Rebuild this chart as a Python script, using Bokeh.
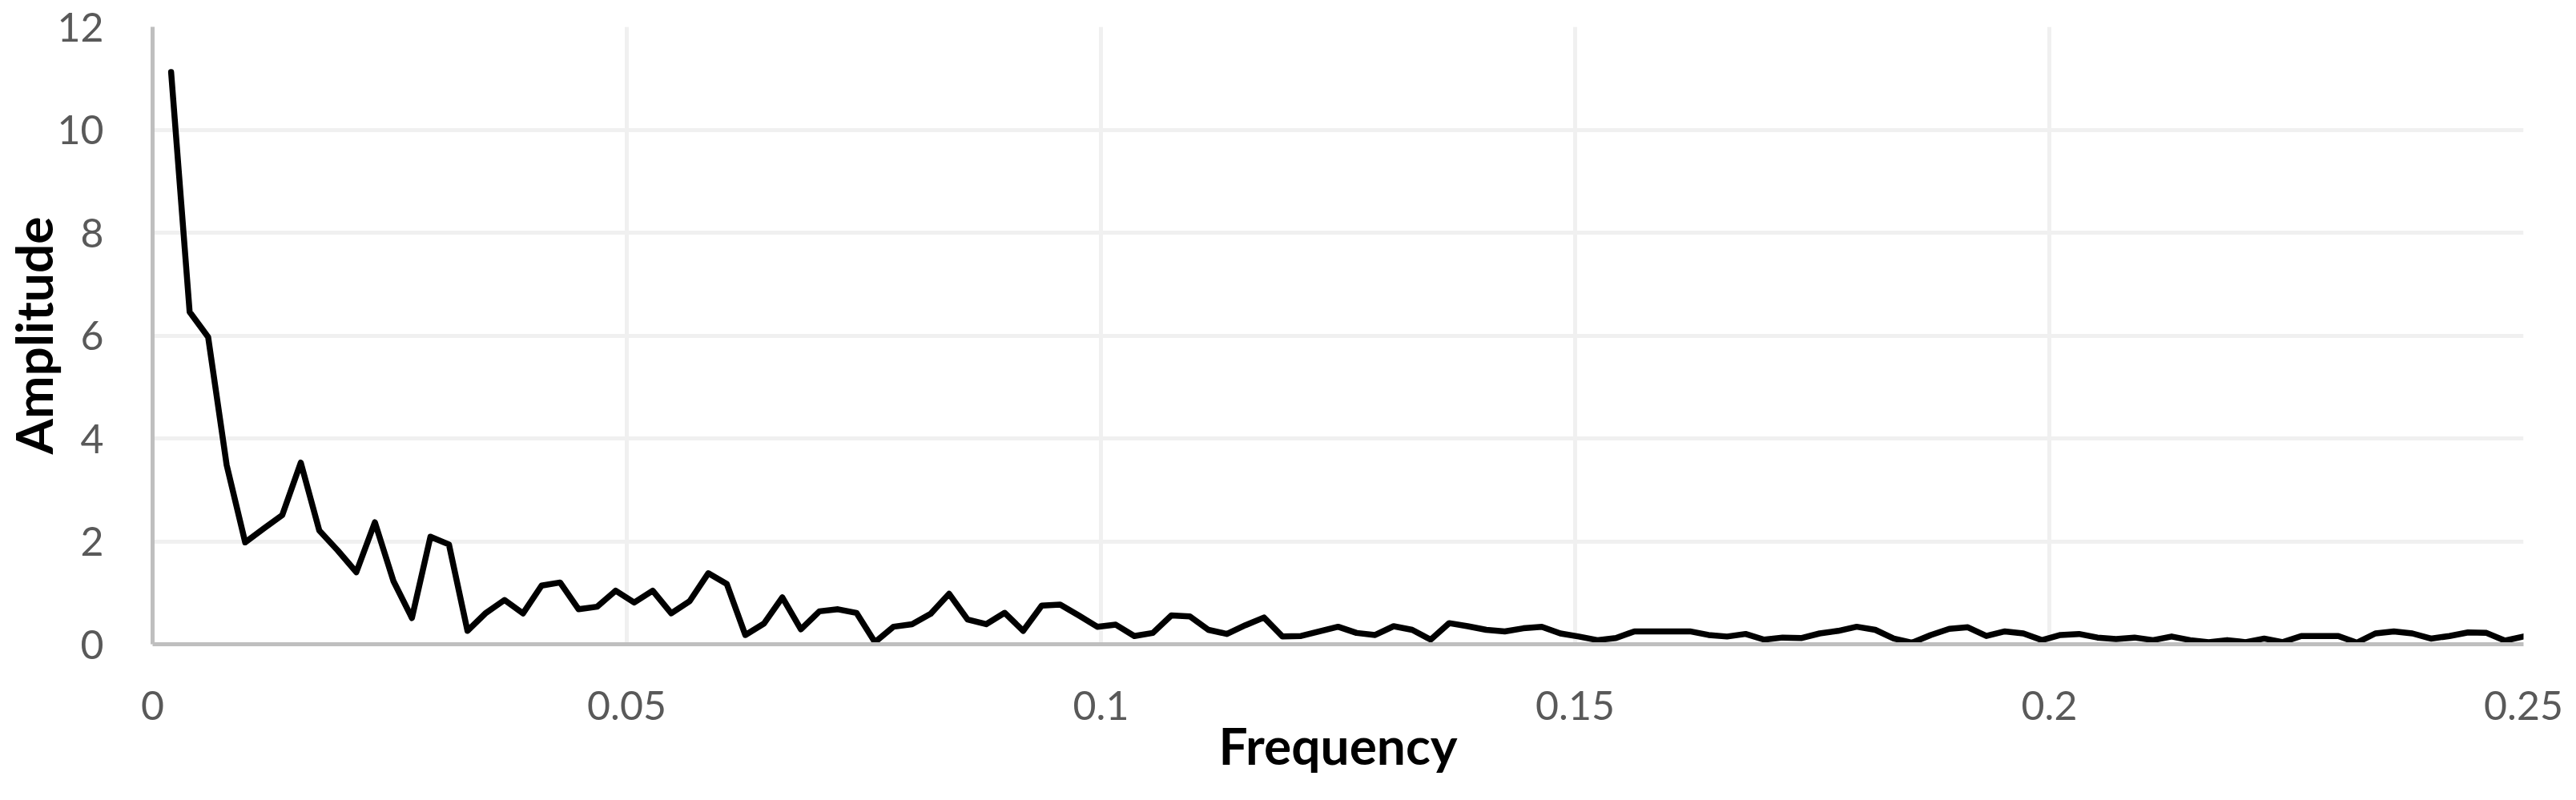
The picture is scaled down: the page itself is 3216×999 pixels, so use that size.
from bokeh.plotting import figure
from bokeh.models import FixedTicker, NumeralTickFormatter
from bokeh.embed import file_html
from bokeh.resources import INLINE

frequency = [
    0.001953, 0.003906, 0.005859, 0.007813, 0.009766, 0.011719, 0.013672, 0.015625,
    0.017578, 0.019531, 0.021484, 0.023438, 0.025391, 0.027344, 0.029297, 0.03125,
    0.033203, 0.035156, 0.037109, 0.039063, 0.041016, 0.042969, 0.044922, 0.046875,
    0.048828, 0.050781, 0.052734, 0.054688, 0.056641, 0.058594, 0.060547, 0.0625,
    0.064453, 0.066406, 0.068359, 0.070313, 0.072266, 0.074219, 0.076172, 0.078125,
    0.080078, 0.082031, 0.083984, 0.085938, 0.087891, 0.089844, 0.091797, 0.09375,
    0.095703, 0.097656, 0.099609, 0.101563, 0.103516, 0.105469, 0.107422, 0.109375,
    0.111328, 0.113281, 0.115234, 0.117188, 0.119141, 0.121094, 0.123047, 0.125,
    0.126953, 0.128906, 0.130859, 0.132813, 0.134766, 0.136719, 0.138672, 0.140625,
    0.142578, 0.144531, 0.146484, 0.148438, 0.150391, 0.152344, 0.154297, 0.15625,
    0.158203, 0.160156, 0.162109, 0.164063, 0.166016, 0.167969, 0.169922, 0.171875,
    0.173828, 0.175781, 0.177734, 0.179688, 0.181641, 0.183594, 0.185547, 0.1875,
    0.189453, 0.191406, 0.193359, 0.195313, 0.197266, 0.199219, 0.201172, 0.203125,
    0.205078, 0.207031, 0.208984, 0.210938, 0.212891, 0.214844, 0.216797, 0.21875,
    0.220703, 0.222656, 0.224609, 0.226563, 0.228516, 0.230469, 0.232422, 0.234375,
    0.236328, 0.238281, 0.240234, 0.242188, 0.244141, 0.246094, 0.248047, 0.25,
]

amplitude = [
    11.12, 6.46, 5.97, 3.48, 1.98, 2.25, 2.51, 3.53,
    2.21, 1.82, 1.40, 2.37, 1.23, 0.51, 2.09, 1.94,
    0.26, 0.61, 0.86, 0.60, 1.14, 1.20, 0.68, 0.73,
    1.04, 0.81, 1.04, 0.60, 0.84, 1.38, 1.17, 0.18,
    0.40, 0.91, 0.29, 0.64, 0.68, 0.61, 0.04, 0.34,
    0.39, 0.59, 0.98, 0.48, 0.39, 0.61, 0.26, 0.75,
    0.77, 0.56, 0.34, 0.38, 0.16, 0.22, 0.56, 0.54,
    0.28, 0.20, 0.37, 0.52, 0.15, 0.16, 0.25, 0.34,
    0.22, 0.18, 0.35, 0.28, 0.09, 0.41, 0.35, 0.28,
    0.25, 0.31, 0.34, 0.21, 0.15, 0.08, 0.12, 0.25,
    0.25, 0.25, 0.25, 0.18, 0.15, 0.20, 0.09, 0.13,
    0.12, 0.21, 0.26, 0.34, 0.28, 0.11, 0.03, 0.18,
    0.30, 0.33, 0.16, 0.25, 0.21, 0.08, 0.18, 0.20,
    0.13, 0.10, 0.13, 0.08, 0.15, 0.08, 0.04, 0.08,
    0.04, 0.11, 0.04, 0.16, 0.16, 0.16, 0.03, 0.21,
    0.25, 0.21, 0.11, 0.16, 0.23, 0.22, 0.07, 0.15,
]

x_ticks = [0, 0.05, 0.1, 0.15, 0.2, 0.25]
y_ticks = [0, 2, 4, 6, 8, 10, 12]
x_title = "Frequency"
y_title = "Amplitude"

FONT = "Lato"

p = figure(
    output_backend="svg", toolbar_location=None,
    frame_width=2960, frame_height=771,
    min_border_left=179, min_border_right=61,
    min_border_top=33, min_border_bottom=179,
    x_range=(0, 0.25), y_range=(0, 12),
    background_fill_color="white", border_fill_color="white",
)
p.outline_line_color = None

p.xgrid.grid_line_color = "#F0F0F0"
p.ygrid.grid_line_color = "#F0F0F0"
p.xgrid.grid_line_width = 5
p.ygrid.grid_line_width = 5

p.line(frequency, amplitude, line_color="black", line_width=7.5,
       line_join="round", line_cap="round")

p.xaxis.ticker = FixedTicker(ticks=x_ticks)
p.yaxis.ticker = FixedTicker(ticks=y_ticks)
p.xaxis.formatter = NumeralTickFormatter(format="0.[00]")
p.yaxis.formatter = NumeralTickFormatter(format="0")

for ax in (p.xaxis, p.yaxis):
    ax.axis_line_color = "#BFBFBF"
    ax.axis_line_width = 5
    ax.major_tick_line_color = None
    ax.minor_tick_line_color = None
    ax.major_label_text_font = FONT
    ax.major_label_text_font_size = "50px"
    ax.major_label_text_color = "#595959"
    ax.axis_label_text_font = FONT
    ax.axis_label_text_font_style = "bold"
    ax.axis_label_text_font_size = "64px"
    ax.axis_label_text_color = "black"

p.xaxis.axis_label = x_title
p.yaxis.axis_label = y_title
p.xaxis.major_label_standoff = 52
p.yaxis.major_label_standoff = 55
p.xaxis.axis_label_standoff = -10
p.yaxis.axis_label_standoff = -12

open("out.html", "w").write(file_html(p, INLINE))
